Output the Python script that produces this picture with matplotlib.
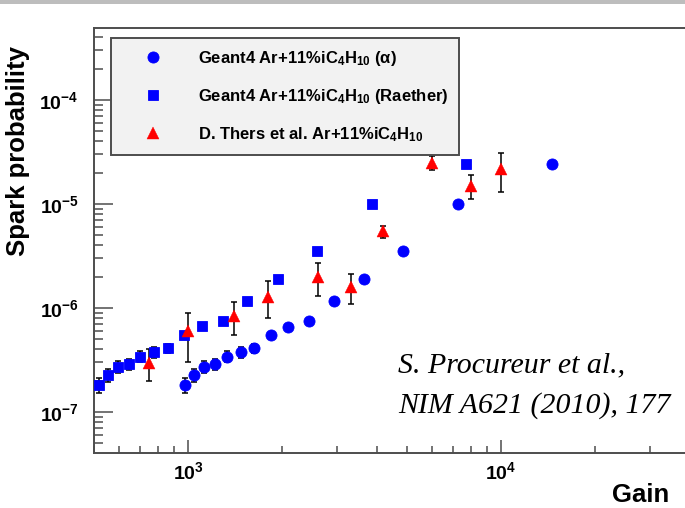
import matplotlib
matplotlib.use("Agg")
import matplotlib.pyplot as plt
from matplotlib.patches import Rectangle
from matplotlib.ticker import LogLocator, LogFormatterMathtext, NullFormatter
import numpy as np

# Geant4 Ar+11%iC4H10 (Raether)
raether_gain = [517, 554, 596, 646, 704, 777, 863, 969, 1108, 1293, 1547, 1936, 2577, 3863, 7731]
raether_prob = [1.82e-7, 2.25e-7, 2.73e-7, 2.90e-7, 3.40e-7, 3.75e-7, 4.12e-7, 5.50e-7,
                6.67e-7, 7.58e-7, 1.16e-6, 1.88e-6, 3.53e-6, 9.93e-6, 2.42e-5]

# Geant4 Ar+11%iC4H10 (alpha)
alpha_gain = [978, 1047, 1127, 1220, 1332, 1470, 1625, 1833, 2092, 2436, 2934, 3659, 4875, 7304, 14585]
alpha_prob = [1.82e-7, 2.25e-7, 2.73e-7, 2.90e-7, 3.40e-7, 3.75e-7, 4.12e-7, 5.50e-7,
              6.61e-7, 7.58e-7, 1.16e-6, 1.88e-6, 3.53e-6, 9.93e-6, 2.42e-5]

# error band of the first 7 simulated points (same for both sets)
sim_lo = [1.51e-7, 1.93e-7, 2.36e-7, 2.52e-7, 3.01e-7, 3.28e-7, 3.67e-7]
sim_hi = [2.11e-7, 2.57e-7, 3.11e-7, 3.25e-7, 3.83e-7, 4.18e-7, 4.54e-7]

# D. Thers et al. measurements
thers_gain = [752, 1000, 1403, 1805, 2602, 3318, 4207, 6022, 8002, 10020]
thers_prob = [2.94e-7, 5.97e-7, 8.38e-7, 1.28e-6, 1.97e-6, 1.58e-6, 5.54e-6, 2.46e-5, 1.49e-5, 2.17e-5]
thers_lo = [2.00e-7, 3.03e-7, 5.46e-7, 7.96e-7, 1.30e-6, 1.09e-6, 4.74e-6, 2.11e-5, 1.11e-5, 1.30e-5]
thers_hi = [4.01e-7, 9.01e-7, 1.14e-6, 1.83e-6, 2.73e-6, 2.12e-6, 6.18e-6, 2.90e-5, 1.89e-5, 3.07e-5]

plt.rcParams['font.family'] = 'Liberation Sans'
plt.rcParams['font.weight'] = 'bold'
plt.rcParams['mathtext.fontset'] = 'custom'
plt.rcParams['mathtext.rm'] = 'Liberation Sans:bold'
plt.rcParams['mathtext.bf'] = 'Liberation Sans:bold'
plt.rcParams['mathtext.it'] = 'Liberation Sans:italic'
plt.rcParams['mathtext.default'] = 'bf'

W, H = 685, 508
fig = plt.figure(figsize=(W / 100, H / 100), dpi=100)
# axes frame runs past the right edge, as in the cropped screenshot
x0, x1, ytop, ybot = 94, 720, 28, 453
ax = fig.add_axes([x0 / W, 1 - ybot / H, (x1 - x0) / W, (ybot - ytop) / H])

fig.add_artist(Rectangle((0, 1 - 4 / H), 1, 4 / H, transform=fig.transFigure,
                         color='#bdbdbd', lw=0))

blue = '#0000ff'
red = '#ff0000'

ax.plot(alpha_gain, alpha_prob, 'o', color=blue, ms=8, mec=blue, mew=0.6,
        label=r'Geant4 Ar+11%iC$_4$H$_{10}$ ($\alpha$)', zorder=3)
ax.plot(raether_gain, raether_prob, 's', color=blue, ms=7.5, mec=blue, mew=0.6,
        label=r'Geant4 Ar+11%iC$_4$H$_{10}$ (Raether)', zorder=3)

n = len(sim_lo)
for g, p in ((raether_gain, raether_prob), (alpha_gain, alpha_prob)):
    pp = np.array(p[:n])
    err = [pp - np.array(sim_lo), np.array(sim_hi) - pp]
    ax.errorbar(g[:n], pp, yerr=err, fmt='none', ecolor='black', elinewidth=1.1,
                capsize=2.5, capthick=1.1, zorder=2)

tp = np.array(thers_prob)
ax.errorbar(thers_gain, tp, yerr=[tp - np.array(thers_lo), np.array(thers_hi) - tp],
            fmt='none', ecolor='black', elinewidth=1.1, capsize=2.5, capthick=1.1, zorder=2)
ax.plot(thers_gain, thers_prob, '^', color=red, ms=8, mec=red, mew=0.3,
        label=r'D. Thers et al. Ar+11%iC$_4$H$_{10}$', zorder=4)

ax.set_xscale('log')
ax.set_yscale('log')
ax.set_xlim(500, 10 ** (3 + (x1 - 188) / 313))
ax.set_ylim(10 ** (-7 - (ybot - 412) / 104), 10 ** (-4 + (100 - ytop) / 104))

ax.xaxis.set_major_locator(LogLocator(base=10))
ax.xaxis.set_minor_locator(LogLocator(base=10, subs=np.arange(2, 10)))
ax.yaxis.set_major_locator(LogLocator(base=10))
ax.yaxis.set_minor_locator(LogLocator(base=10, subs=np.arange(2, 10)))
ax.xaxis.set_major_formatter(LogFormatterMathtext())
ax.yaxis.set_major_formatter(LogFormatterMathtext())
ax.xaxis.set_minor_formatter(NullFormatter())
ax.yaxis.set_minor_formatter(NullFormatter())

spine_col = '#4d4d4d'
for s in ax.spines.values():
    s.set_color(spine_col)
    s.set_linewidth(1.4)
ax.tick_params(axis='both', which='both', direction='in', colors=spine_col,
               labelcolor='black', top=False, right=False, width=1.1)
ax.tick_params(axis='x', which='major', length=9.5, pad=6, labelsize=14)
ax.tick_params(axis='x', which='minor', length=5)
ax.tick_params(axis='y', which='major', length=13.5, pad=11, labelsize=14)
ax.tick_params(axis='y', which='minor', length=6.5)

ax.set_xlabel('Gain', fontsize=18.5, fontweight='bold', ha='right', va='baseline')
ax.xaxis.set_label_coords(669 / W, 1 - 502 / H, transform=fig.transFigure)
ax.set_ylabel('Spark probability', fontsize=18.5, fontweight='bold', va='center')
ax.yaxis.set_label_coords(18 / W, 1 - 151 / H, transform=fig.transFigure)

leg = ax.legend(loc='upper left', bbox_to_anchor=(111 / W, 1 - 38 / H),
                bbox_transform=fig.transFigure, frameon=True,
                fancybox=False, borderpad=0.65, borderaxespad=0,
                handlelength=3.75, handletextpad=0.8, labelspacing=1.15,
                numpoints=1, prop={'family': 'Liberation Sans', 'weight': 'bold', 'size': 12})
leg.get_frame().set_facecolor('#f2f2f2')
leg.get_frame().set_edgecolor(spine_col)
leg.get_frame().set_linewidth(1.4)
leg.get_frame().set_alpha(1)

fig.text(398 / W, 1 - 372 / H, 'S. Procureur et al.,', family='Liberation Serif',
         style='italic', weight='normal', fontsize=21.5, va='baseline', ha='left')
fig.text(398 / W, 1 - 413 / H, 'NIM A621 (2010), 177', family='Liberation Serif',
         style='italic', weight='normal', fontsize=21.5, va='baseline', ha='left')

fig.savefig('out.png', dpi=100)
